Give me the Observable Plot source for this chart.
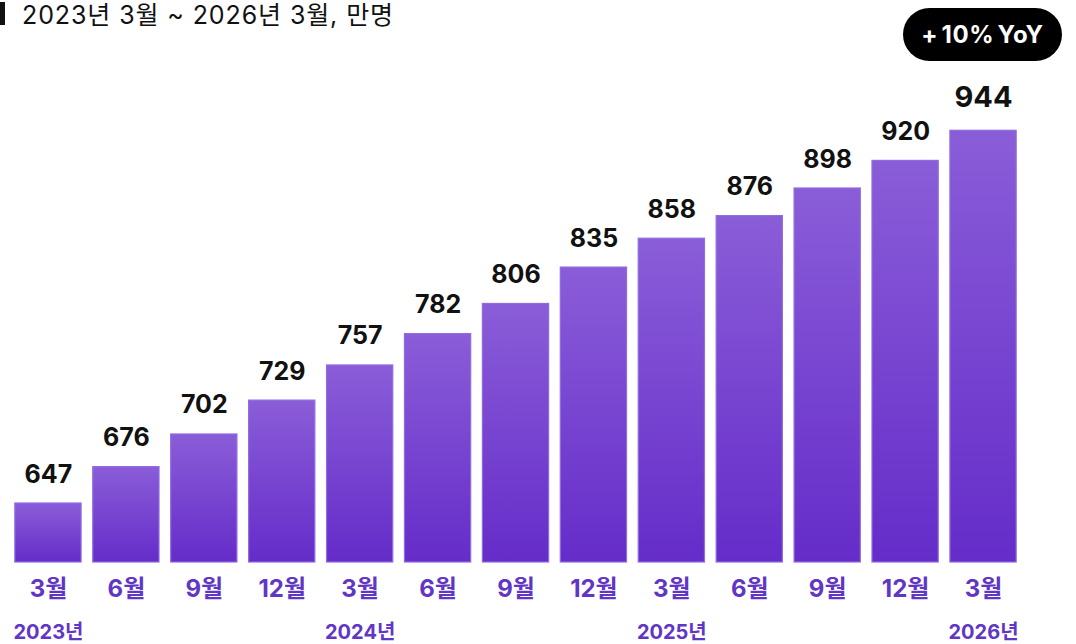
<!DOCTYPE html>
<html>
<head>
<meta charset="utf-8">
<script src="https://cdn.jsdelivr.net/npm/d3@7"></script>
<script src="https://cdn.jsdelivr.net/npm/@observablehq/plot@0.6"></script>
<style>
  html, body { margin: 0; padding: 0; background: #fff; }
  #wrap { position: relative; width: 1076px; height: 644px; overflow: hidden;
          font-family: Inter, "Noto Sans CJK KR", sans-serif; }
  #title { position: absolute; left: 0; top: 0; height: 30px; width: 800px;
           font-family: Inter, "Noto Sans CJK KR", sans-serif; font-size: 25px; color: #111;
           line-height: 30px; padding-left: 22px; box-sizing: border-box; letter-spacing: 0.9px; }
  #title::before { content: ""; position: absolute; left: 0; top: 2px; width: 5px; height: 23px; background: #111; }
  #badge { position: absolute; left: 903px; top: 8px; width: 159px; height: 53px; border-radius: 27px;
           background: #000; color: #fff; font-weight: 700; font-size: 24px;
           display: flex; align-items: center; justify-content: center; letter-spacing: 0.6px; word-spacing: -3px; }
  #chart { position: absolute; left: 0; top: 30px; }
</style>
</head>
<body>
<div id="wrap">
  <div id="title">2023년 3월 ~ 2026년 3월, 만명</div>
  <div id="chart"></div>
  <div id="badge">+ 10% YoY</div>
</div>
<script>
const periods = ["2023-03","2023-06","2023-09","2023-12","2024-03","2024-06","2024-09","2024-12","2025-03","2025-06","2025-09","2025-12","2026-03"];
const monthLabels = ["3월","6월","9월","12월","3월","6월","9월","12월","3월","6월","9월","12월","3월"];
const values = [647,676,702,729,757,782,806,835,858,876,898,920,944];
const yearPeriods = ["2023-03","2024-03","2025-03","2026-03"];
const yearLabels = ["2023년","2024년","2025년","2026년"];
const yBase = 600;
const yTop = 1000;

const data = periods.map((p, i) => ({period: p, month: monthLabels[i], value: values[i], last: i === periods.length - 1}));
const years = yearPeriods.map((p, i) => ({period: p, label: yearLabels[i]}));

const purple = "#6236c4";
const font = 'Inter, "Noto Sans CJK KR", sans-serif';

const svg = Plot.plot({
  width: 1076,
  height: 614,
  marginLeft: 9,
  marginRight: 54,
  marginTop: 30,
  marginBottom: 82,
  style: {fontFamily: font, background: "transparent", overflow: "visible"},
  x: {domain: periods, paddingInner: 0.15, paddingOuter: 0.075, round: false, axis: null},
  y: {domain: [yBase, yTop], axis: null},
  marks: [
    Plot.barY(data, {x: "period", y1: () => yBase, y2: "value", fill: "url(#barGrad)", stroke: "#8f6ce0", strokeWidth: 1.2, inset: 0}),
    Plot.text(data.filter(d => !d.last), {x: "period", y: "value", text: d => String(d.value), dy: -29, fontSize: 25, fontWeight: 700, fill: "#111"}),
    Plot.text(data.filter(d => d.last), {x: "period", y: "value", text: d => String(d.value), dy: -33, fontSize: 29, fontWeight: 700, fill: "#111"}),
    Plot.text(data, {x: "period", text: "month", frameAnchor: "bottom", dy: 34, fontSize: 24, fontWeight: 700, fill: purple}),
    Plot.text(years, {x: "period", text: "label", frameAnchor: "bottom", dy: 76, fontSize: 20, fontWeight: 700, fill: purple})
  ]
});

const defs = d3.select(svg).insert("defs", ":first-child");
const g = defs.append("linearGradient").attr("id", "barGrad").attr("x1", 0).attr("y1", 0).attr("x2", 0).attr("y2", 1);
g.append("stop").attr("offset", "0%").attr("stop-color", "#8a5dd8");
g.append("stop").attr("offset", "100%").attr("stop-color", "#652cc9");

document.getElementById("chart").appendChild(svg);
</script>
</body>
</html>
